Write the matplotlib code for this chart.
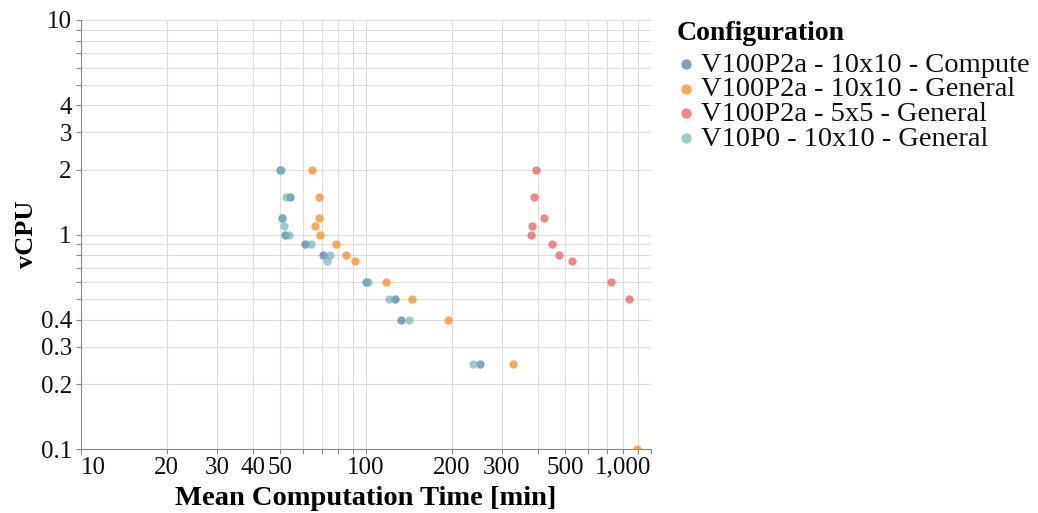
import matplotlib
matplotlib.use("Agg")
import matplotlib.pyplot as plt
import numpy as np

# ---------------- data ----------------
configs = [
    "V100P2a - 10x10 - Compute",
    "V100P2a - 10x10 - General",
    "V100P2a - 5x5 - General",
    "V10P0 - 10x10 - General",
]
colors = ["#4c78a8", "#f58518", "#e45756", "#72b7b2"]

compute_time = [50, 53.9, 50.6, 51.8, 60.9, 70.7, 99.7, 126.9, 132.6, 250.8]
compute_vcpu = [2, 1.5, 1.2, 1.0, 0.9, 0.8, 0.6, 0.5, 0.4, 0.25]

general_time = [64.6, 68.4, 68.6, 66.4, 68.8, 78.5, 85.4, 91.4, 117.4, 144.6, 194.4, 327, 895]
general_vcpu = [2, 1.5, 1.2, 1.1, 1.0, 0.9, 0.8, 0.75, 0.6, 0.5, 0.4, 0.25, 0.1]

small_time = [395, 390, 422, 381, 378, 449, 474, 527, 726, 838]
small_vcpu = [2, 1.5, 1.2, 1.1, 1.0, 0.9, 0.8, 0.75, 0.6, 0.5]

v10_time = [50.3, 52.2, 50.6, 51.4, 53.7, 64.3, 74.8, 72.7, 101.6, 120.9, 141.9, 238]
v10_vcpu = [2, 1.5, 1.2, 1.1, 1.0, 0.9, 0.8, 0.75, 0.6, 0.5, 0.4, 0.25]

series_time = [compute_time, general_time, small_time, v10_time]
series_vcpu = [compute_vcpu, general_vcpu, small_vcpu, v10_vcpu]

x_ticks = [10, 20, 30, 40, 50, 60, 70, 80, 90, 100, 200, 300, 400, 500, 600, 700, 800, 900, 1000]
x_labels = ["10", "20", "30", "40", "50", "", "", "", "", "100", "200", "300", "", "500", "", "", "", "", "1,000"]
y_ticks = [0.1, 0.2, 0.3, 0.4, 0.5, 0.6, 0.7, 0.8, 0.9, 1, 2, 3, 4, 5, 6, 7, 8, 9, 10]
y_labels = ["0.1", "0.2", "0.3", "0.4", "", "", "", "", "", "1", "2", "3", "4", "", "", "", "", "", "10"]

x_title = "Mean Computation Time [min]"
y_title = "vCPU"
legend_title = "Configuration"

# ---------------- style ----------------
FONT = ["Liberation Serif", "DejaVu Serif"]
plt.rcParams["font.family"] = FONT

W, H = 1038, 513
fig = plt.figure(figsize=(W / 100, H / 100), dpi=100)
L, R, T, B = 81, 651, 20, 449
ax = fig.add_axes([L / W, 1 - B / H, (R - L) / W, (B - T) / H])

for t, v, c in zip(series_time, series_vcpu, colors):
    ax.scatter(t, v, s=36, color=c, alpha=0.7, linewidths=0, zorder=3)

ax.set_xscale("log")
ax.set_yscale("log")
ax.set_xlim(10, 1000)
ax.set_ylim(0.1, 10)

ax.xaxis.set_major_locator(matplotlib.ticker.FixedLocator(x_ticks))
ax.xaxis.set_minor_locator(matplotlib.ticker.NullLocator())
ax.set_xticklabels(x_labels)
ax.yaxis.set_major_locator(matplotlib.ticker.FixedLocator(y_ticks))
ax.yaxis.set_minor_locator(matplotlib.ticker.NullLocator())
ax.set_yticklabels(y_labels)

ax.grid(True, color="#dddddd", linewidth=0.8, zorder=0)
ax.set_axisbelow(True)
for s in ["top", "right"]:
    ax.spines[s].set_visible(False)
for s in ["left", "bottom"]:
    ax.spines[s].set_color("#888888")
    ax.spines[s].set_linewidth(0.8)
ax.tick_params(axis="both", length=3.6, width=0.8, color="#888888",
               labelsize=18, labelcolor="#111111")
ax.tick_params(axis="x", pad=2)
ax.tick_params(axis="y", pad=3)

xl = ax.get_xticklabels()
xl[0].set_horizontalalignment("left")
xl[-1].set_horizontalalignment("right")

ax.set_xlabel(x_title, fontsize=20.5, fontweight="bold", labelpad=5)
ax.set_ylabel(y_title, fontsize=19, fontweight="bold", labelpad=2)

# legend drawn in a pixel-coordinate overlay
lax = fig.add_axes([0, 0, 1, 1])
lax.set_xlim(0, W)
lax.set_ylim(H, 0)
lax.axis("off")
lax.text(677, 33, legend_title, fontsize=20, fontweight="bold", va="center", ha="left")
for i, (lab, c) in enumerate(zip(configs, colors)):
    y = 64 + i * 24.7
    lax.scatter([686], [y], s=55, color=c, alpha=0.7, linewidths=0)
    lax.text(701, y + 1, lab, fontsize=20.5, va="center", ha="left", color="#111111")

fig.savefig("out.png", dpi=100)
